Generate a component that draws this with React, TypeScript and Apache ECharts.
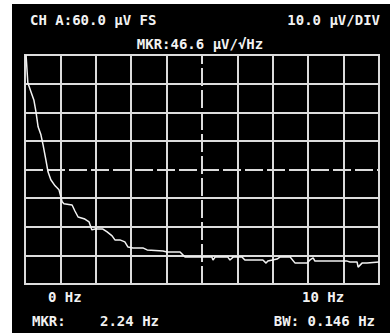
import React, { useEffect, useRef } from "react";
import * as echarts from "echarts";

// Trace: noise density (µV/√Hz) versus frequency (Hz)
const freqHz = [
  0.03, 0.08, 0.17, 0.25, 0.31, 0.37, 0.45, 0.51, 0.59, 0.65, 0.73, 0.85, 0.96,
  1.05, 1.1, 1.33, 1.41, 1.5, 1.69, 1.81, 1.89, 1.98, 2.2, 2.32, 2.46, 2.54,
  2.68, 2.82, 2.91, 3.05, 3.33, 3.45, 3.9, 4.01, 4.38, 4.52, 4.94, 5.28, 5.31,
  5.37, 5.73, 5.79, 5.88, 6.13, 6.21, 6.72, 6.81, 6.86, 7.12, 7.2, 7.49, 7.63,
  7.97, 8.05, 8.14, 8.19, 9.1, 9.18, 9.38, 9.41, 9.52, 9.66, 10.0,
];
const noiseUv = [
  80.0, 70.3, 67.1, 64.3, 60.1, 54.9, 52.1, 48.6, 43.4, 39.2, 36.4, 34.3, 32.9,
  28.7, 28.0, 27.6, 25.5, 23.4, 22.7, 21.7, 18.9, 19.2, 19.2, 18.2, 16.8, 15.4,
  15.4, 14.7, 12.9, 12.6, 12.6, 11.9, 11.5, 11.2, 11.2, 9.4, 9.4, 9.4, 8.4,
  9.4, 9.4, 8.4, 9.4, 9.4, 8.4, 8.4, 7.3, 8.0, 8.7, 9.4, 9.4, 7.3,
  7.3, 8.4, 9.1, 8.0, 8.0, 7.7, 7.7, 5.9, 7.3, 7.3, 7.7,
];

// Graticule
const xMin = 0;
const xMax = 10;
const xGridLines = [1, 2, 3, 4, 5, 6, 7, 8, 9];
const yMin = 0;
const yMax = 80;
const yGridLines = [10, 20, 30, 40, 50, 60, 70];
const xCenter = 5;
const yCenter = 40;

// Texts
const headerLeft = "CH A:60.0 μV FS";
const headerRight = "10.0 μV/DIV";
const markerValue = "MKR:46.6 μV/√Hz";
const startLabel = "0 Hz";
const stopLabel = "10 Hz";
const markerLabel = "MKR:";
const markerFreq = "2.24 Hz";
const bandwidth = "BW: 0.146 Hz";

const FONT = "DejaVu Sans Mono";
const WHITE = "#f2f2f2";
const GRID = "#dcdcdc";

function txt(text: string, x: number, y: number, align: string) {
  return {
    type: "text",
    x,
    y,
    style: {
      text,
      fill: WHITE,
      font: `bold 14px "${FONT}"`,
      align,
      verticalAlign: "middle",
    },
  };
}

export default function App() {
  const ref = useRef<HTMLDivElement>(null);

  useEffect(() => {
    if (!ref.current) return;
    const chart = echarts.init(ref.current, undefined, { renderer: "svg" });

    const gridLineData: any[] = [];
    xGridLines.forEach((v) =>
      gridLineData.push({
        xAxis: v,
        lineStyle: { type: v === xCenter ? [18, 4] : "solid" },
      })
    );
    yGridLines.forEach((v) =>
      gridLineData.push({
        yAxis: v,
        lineStyle: { type: v === yCenter ? [18, 4] : "solid" },
      })
    );

    chart.setOption({
      animation: false,
      backgroundColor: "#000000",
      grid: {
        left: 13,
        top: 51,
        width: 354,
        height: 229,
        show: true,
        borderColor: GRID,
        borderWidth: 2,
        backgroundColor: "transparent",
      },
      xAxis: {
        type: "value",
        min: xMin,
        max: xMax,
        interval: 1,
        axisLine: { show: false },
        axisTick: { show: false },
        axisLabel: { show: false },
        splitLine: { show: false },
      },
      yAxis: {
        type: "value",
        min: yMin,
        max: yMax,
        interval: 10,
        axisLine: { show: false },
        axisTick: { show: false },
        axisLabel: { show: false },
        splitLine: { show: false },
      },
      graphic: [
        txt(headerLeft, 18, 16, "left"),
        txt(headerRight, 368, 16, "right"),
        txt(markerValue, 188, 40, "center"),
        txt(startLabel, 36, 293, "left"),
        txt(stopLabel, 290, 293, "left"),
        txt(markerLabel, 20, 317, "left"),
        txt(markerFreq, 88, 317, "left"),
        txt(bandwidth, 363, 317, "right"),
      ],
      series: [
        {
          type: "line",
          name: "graticule",
          data: [],
          z: 1,
          silent: true,
          markLine: {
            silent: true,
            symbol: ["none", "none"],
            label: { show: false },
            lineStyle: { color: GRID, width: 2 },
            data: gridLineData,
          },
        },
        {
          type: "line",
          name: "trace",
          data: freqHz.map((f, i) => [f, noiseUv[i]]),
          showSymbol: false,
          z: 5,
          lineStyle: { color: WHITE, width: 1.5 },
        },
      ],
    });

    return () => chart.dispose();
  }, []);

  return (
    <div
      style={{
        position: "absolute",
        left: 0,
        top: 0,
        width: 390,
        height: 333,
        background: "#ffffff",
      }}
    >
      <div
        ref={ref}
        style={{
          position: "absolute",
          left: 12,
          top: 4,
          width: 378,
          height: 329,
        }}
      />
    </div>
  );
}
